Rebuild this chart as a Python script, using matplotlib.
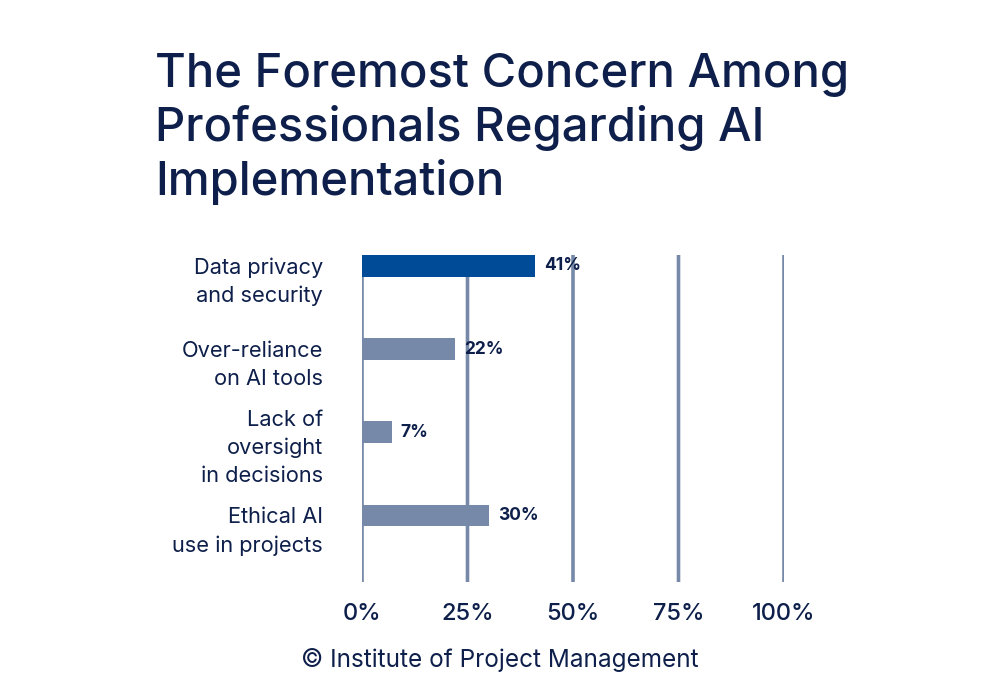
import matplotlib
matplotlib.use("Agg")
import matplotlib.pyplot as plt
import matplotlib.transforms as mtransforms

categories = ["Data privacy\nand security", "Over-reliance\non AI tools",
              "Lack of\noversight\nin decisions", "Ethical AI\nuse in projects"]
values = [41, 22, 7, 30]
ticks = [0, 25, 50, 75, 100]
tick_labels = ["0%", "25%", "50%", "75%", "100%"]

navy = "#0d1f4a"
blue = "#004b98"
grey = "#7689a8"

plt.rcParams["font.family"] = ["Inter", "DejaVu Sans"]

fig = plt.figure(figsize=(10, 7), dpi=100)
ax = fig.add_axes([0.362, 1 - 582 / 700, 0.422, (582 - 255) / 700])

pos = list(range(len(values)))
colors = [blue] + [grey] * (len(values) - 1)
ax.barh(pos, values, height=0.26, color=colors, zorder=1)

for t in ticks:
    ax.axvline(t, color=grey, lw=2.6, zorder=0, snap=False)

for p, v in zip(pos, values):
    ax.text(v + 2.2, p, f"{v}%", va="center", ha="left", fontsize=12.5,
            fontweight="bold", color=navy)

ax.set_xlim(0, 100)
ax.set_ylim(3.8, -0.13)
ax.set_yticks(pos)
ax.set_yticklabels(categories, fontsize=15.7, color=navy, linespacing=1.5)
ax.set_xticks(ticks)
ax.set_xticklabels(tick_labels, fontsize=17, color=navy, fontweight="medium")
ax.tick_params(axis="both", length=0)
ax.tick_params(axis="y", pad=28)
ax.tick_params(axis="x", pad=15)
for s in ax.spines.values():
    s.set_visible(False)

# labels sit a bit below the bar centres in the original
shift = mtransforms.ScaledTranslation(0, -7 / 72, fig.dpi_scale_trans)
for lab in ax.get_yticklabels():
    lab.set_transform(lab.get_transform() + shift)

fig.text(0.155, 1 - 195 / 700, "The Foremost Concern Among\nProfessionals Regarding AI\nImplementation",
         ha="left", va="baseline", fontsize=34, fontweight="medium", color=navy,
         linespacing=1.22)
fig.text(0.5, 1 - 667 / 700, "© Institute of Project Management", ha="center",
         va="baseline", fontsize=17.5, color=navy)

fig.savefig("out.png", dpi=100)
